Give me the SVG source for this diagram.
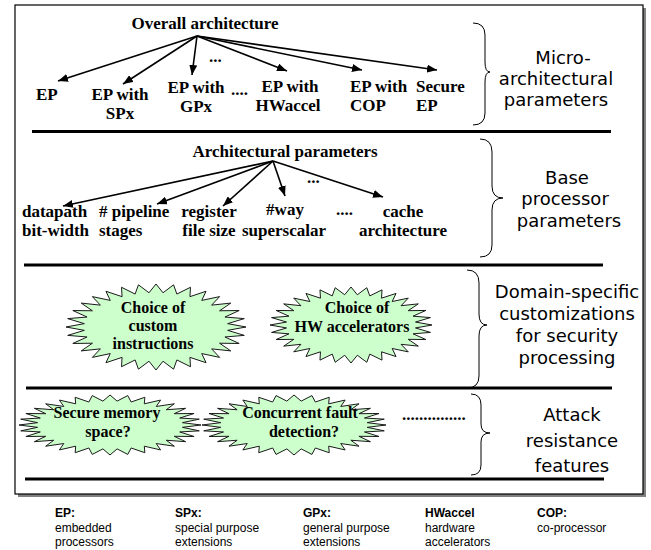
<svg xmlns="http://www.w3.org/2000/svg" xmlns:xlink="http://www.w3.org/1999/xlink" width="651" height="550" viewBox="0 0 651 550">
<style>
.t{font-family:"Liberation Serif","Times New Roman",serif;font-weight:bold;font-size:17px;fill:#000}
.s{font-family:"Liberation Serif","Times New Roman",serif;font-weight:bold;font-size:16px;fill:#000}
.r{font-family:"DejaVu Sans","Comic Sans MS",sans-serif;font-size:18px;fill:#000;text-anchor:middle}
.lg{font-family:"Liberation Sans",Arial,sans-serif;font-size:12px;fill:#000}
.lb{font-family:"Liberation Sans",Arial,sans-serif;font-size:12px;font-weight:bold;fill:#000}
.m{text-anchor:middle}
.div{stroke:#000;stroke-width:3;fill:none}
.arr{stroke:#000;stroke-width:1.6;fill:none;marker-end:url(#ah)}
.brace{stroke:#000;stroke-width:1;fill:none}
.star{fill:#ccffcc;stroke:#1a1a1a;stroke-width:1;vector-effect:non-scaling-stroke}
</style>
<defs>
<marker id="ah" viewBox="0 0 10 8" refX="10" refY="4" markerWidth="10" markerHeight="8" markerUnits="userSpaceOnUse" orient="auto">
<path d="M0,0 L10,4 L0,8 Z" fill="#000"/>
</marker>
<polygon id="star" class="star" points="1,0 0.796,0.078 0.981,0.195 0.766,0.232 0.924,0.383 0.706,0.377 0.831,0.556 0.618,0.508 0.707,0.707 0.508,0.618 0.556,0.831 0.377,0.706 0.383,0.924 0.232,0.766 0.195,0.981 0.078,0.796 0,1 -0.078,0.796 -0.195,0.981 -0.232,0.766 -0.383,0.924 -0.377,0.706 -0.556,0.831 -0.508,0.618 -0.707,0.707 -0.618,0.508 -0.831,0.556 -0.706,0.377 -0.924,0.383 -0.766,0.232 -0.981,0.195 -0.796,0.078 -1,0 -0.796,-0.078 -0.981,-0.195 -0.766,-0.232 -0.924,-0.383 -0.706,-0.377 -0.831,-0.556 -0.618,-0.508 -0.707,-0.707 -0.508,-0.618 -0.556,-0.831 -0.377,-0.706 -0.383,-0.924 -0.232,-0.766 -0.195,-0.981 -0.078,-0.796 0,-1 0.078,-0.796 0.195,-0.981 0.232,-0.766 0.383,-0.924 0.377,-0.706 0.556,-0.831 0.508,-0.618 0.707,-0.707 0.618,-0.508 0.831,-0.556 0.706,-0.377 0.924,-0.383 0.766,-0.232 0.981,-0.195 0.796,-0.078"/>
</defs>

<g id="frame">
<rect x="18" y="8" width="628" height="489" fill="#808080"/>
<rect x="15" y="5" width="628" height="489" fill="#fff" stroke="#000" stroke-width="1.2"/>
<line class="div" x1="32" y1="131.5" x2="611" y2="131.5"/>
<line class="div" x1="24" y1="265" x2="603" y2="265"/>
<line class="div" x1="26" y1="388" x2="612" y2="388"/>
<line class="div" x1="25" y1="479" x2="604" y2="479"/>
</g>

<g id="connectors">
<line class="arr" x1="197" y1="36" x2="58" y2="81"/>
<line class="arr" x1="197" y1="36" x2="123" y2="84"/>
<line class="arr" x1="197" y1="36" x2="192" y2="75"/>
<line class="arr" x1="197" y1="36" x2="287" y2="71"/>
<line class="arr" x1="197" y1="36" x2="362" y2="70"/>
<line class="arr" x1="197" y1="36" x2="437" y2="70"/>
<line class="arr" x1="273" y1="161" x2="63" y2="206"/>
<line class="arr" x1="273" y1="161" x2="157" y2="204"/>
<line class="arr" x1="273" y1="161" x2="223" y2="206"/>
<line class="arr" x1="273" y1="161" x2="285" y2="196"/>
<line class="arr" x1="273" y1="161" x2="383" y2="197"/>
</g>

<g id="overall"><text class="t m" x="205" y="29">Overall architecture</text></g>
<g id="ep"><text class="t" x="36" y="100">EP</text></g>
<g id="ep-spx"><text class="t m" x="120" y="100">EP with</text><text class="t m" x="120" y="119">SPx</text></g>
<g id="ep-gpx"><text class="t m" x="196" y="93">EP with</text><text class="t m" x="196" y="112">GPx</text></g>
<text class="t" x="209" y="62">...</text>
<text class="t" x="231" y="95">....</text>
<g id="ep-hw"><text class="t m" x="290" y="92">EP with</text><text class="t m" x="288" y="111">HWaccel</text></g>
<g id="ep-cop"><text class="t" x="350" y="92">EP with</text><text class="t" x="350" y="111">COP</text></g>
<g id="secure-ep"><text class="t" x="416" y="92" fill="#333">Secure</text><text class="t" x="416" y="111" fill="#333">EP</text></g>

<g id="arch-params"><text class="t m" x="285" y="157">Architectural parameters</text></g>
<g id="datapath"><text class="t" x="22" y="217">datapath</text><text class="t" x="22" y="236">bit-width</text></g>
<g id="pipeline"><text class="t" x="99" y="217">#&#160;pipeline</text><text class="t" x="99" y="236">stages</text></g>
<g id="regfile"><text class="t m" x="209" y="217">register</text><text class="t m" x="209" y="236">file size</text></g>
<g id="way"><text class="t m" x="285" y="215">#way</text><text class="t m" x="284" y="236">superscalar</text></g>
<text class="t" x="307" y="183">...</text>
<text class="t" x="336" y="215">....</text>
<g id="cache"><text class="t m" x="403" y="217">cache</text><text class="t m" x="403" y="236">architecture</text></g>

<g id="star-custom">
<use xlink:href="#star" href="#star" transform="translate(156,327) scale(90,43)"/>
<text class="s m" x="153" y="313">Choice of</text>
<text class="s m" x="153" y="331">custom</text>
<text class="s m" x="153" y="349">instructions</text>
</g>
<g id="star-hw">
<use xlink:href="#star" href="#star" transform="translate(351,325) scale(81,38)"/>
<text class="s m" x="357" y="313">Choice of</text>
<text class="s m" x="352" y="332">HW accelerators</text>
</g>
<g id="star-mem">
<use xlink:href="#star" href="#star" transform="translate(110,425) scale(91,30)"/>
<text class="s m" x="107" y="418">Secure memory</text>
<text class="s m" x="108" y="437">space?</text>
</g>
<g id="star-fault">
<use xlink:href="#star" href="#star" transform="translate(294,425) scale(92,30)"/>
<text class="s m" x="300" y="418">Concurrent fault</text>
<text class="s m" x="304" y="437">detection?</text>
</g>
<text class="t" x="402" y="420">...............</text>

<g id="braces">
<path class="brace" d="M473,23 Q485,23 485,35 L485,62 Q485,72 490,72 Q485,72 485,82 L485,113 Q485,125 473,125"/>
<path class="brace" d="M480,139 Q492,139 492,152 L492,186 Q492,198 503,198 Q492,198 492,210 L492,245 Q492,257 480,257"/>
<path class="brace" d="M467,270 Q479,270 479,283 L479,314 Q479,325 487,325 Q479,325 479,336 L479,376 Q479,388 467,388"/>
<path class="brace" d="M471,394 Q481,394 481,405 L481,424 Q481,433 490,433 Q481,433 481,442 L481,465 Q481,475 471,475"/>
</g>

<g id="lbl-micro"><text class="r" x="563" y="64">Micro-</text><text class="r" x="556" y="85">architectural</text><text class="r" x="556" y="106">parameters</text></g>
<g id="lbl-base"><text class="r" x="567" y="184">Base</text><text class="r" x="565" y="205">processor</text><text class="r" x="569" y="227">parameters</text></g>
<g id="lbl-domain"><text class="r" x="567" y="298">Domain-specific</text><text class="r" x="567" y="320">customizations</text><text class="r" x="567" y="342">for security</text><text class="r" x="567" y="364">processing</text></g>
<g id="lbl-attack"><text class="r" x="572" y="421">Attack</text><text class="r" x="572" y="447">resistance</text><text class="r" x="572" y="472">features</text></g>

<g id="legend">
<text class="lb" x="55" y="517">EP:</text><text class="lg" x="55" y="532">embedded</text><text class="lg" x="55" y="546">processors</text>
<text class="lb" x="175" y="517">SPx:</text><text class="lg" x="175" y="532">special purpose</text><text class="lg" x="175" y="546">extensions</text>
<text class="lb" x="303" y="517">GPx:</text><text class="lg" x="303" y="532">general purpose</text><text class="lg" x="303" y="546">extensions</text>
<text class="lb" x="425" y="517">HWaccel</text><text class="lg" x="425" y="532">hardware</text><text class="lg" x="425" y="546">accelerators</text>
<text class="lb" x="537" y="517">COP:</text><text class="lg" x="537" y="532">co-processor</text>
</g>
</svg>
